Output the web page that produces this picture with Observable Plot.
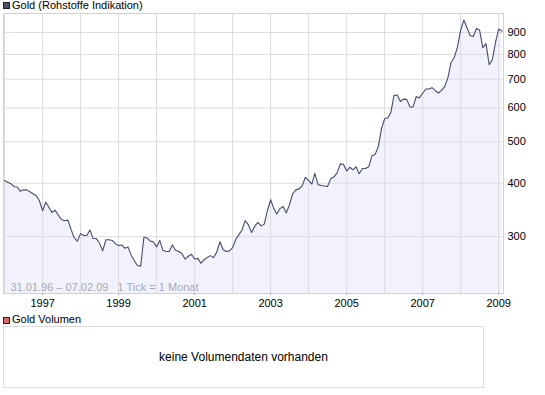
<!DOCTYPE html>
<html><head><meta charset="utf-8">
<script src="https://cdn.jsdelivr.net/npm/d3@7"></script>
<script src="https://cdn.jsdelivr.net/npm/@observablehq/plot@0.6"></script>
<style>
body{margin:0;background:#fff;font-family:"Liberation Sans",Arial,sans-serif;font-size:11px;color:#000;width:545px;height:395px;overflow:hidden}
.leg{height:12px;position:relative;white-space:nowrap}
.sq{position:absolute;left:3px;width:7px;height:7px;box-sizing:border-box;border:1px solid #222}
.lt{position:absolute;left:12px;line-height:12px}
#lower{position:relative;height:83px}
#box{position:absolute;left:3px;top:14px;width:481px;height:62px;box-sizing:border-box;border:1px solid #dcdcdc;display:flex;align-items:center;justify-content:center;font-size:12px}
#chart svg{display:block}
</style>
</head><body>
<div class="leg"><div class="sq" style="top:2px;background:#4a5070"></div><div class="lt" style="top:-1px">Gold (Rohstoffe Indikation)</div></div>
<div id="chart"></div>
<div id="lower">
  <div class="sq" style="top:5px;background:#d86a6a"></div><div class="lt" style="top:1px">Gold Volumen</div>
  <div id="box">keine Volumendaten vorhanden</div>
</div>
<script>
// monthly closes (Jan 1996 .. Feb 2009), USD per ounce
const firstMonth = "1996-01-01";
const lastMonth = "2009-02-01";
const goldValues = [
  406,402,399,393,392,383,386,386,382,378,374,364,
  345,361,352,342,346,337,329,327,328,312,298,293,
  305,302,302,311,297,297,290,278,295,295,294,289,
  286,287,282,284,272,264,257,256,299,298,293,292,
  284,294,279,277,277,287,279,277,274,266,270,273,
  266,267,260,265,268,271,268,276,292,280,277,278,
  283,296,303,311,327,320,307,317,324,318,321,345,
  366,349,339,349,353,341,356,378,386,388,395,413,
  406,398,422,397,395,394,393,410,414,423,444,443,
  427,436,430,437,421,433,433,437,464,467,487,536,
  566,569,585,641,643,621,629,628,603,603,638,633,
  649,664,664,669,659,650,659,673,706,766,787,831,
  910,963,925,886,881,920,912,830,848,757,778,853,917,907
];
const gridYears = [1996,1997,1998,1999,2000,2001,2002,2003,2004,2005,2006,2007,2008,2009];
const labelYears = [1997,1999,2001,2003,2005,2007,2009];
const yTicks = [300,400,500,600,700,800,900];
const rangeText = "31.01.96 \u2013 07.02.09\u00a0\u00a0\u00a01 Tick = 1 Monat";

const months = d3.utcMonth.range(new Date(firstMonth), d3.utcMonth.offset(new Date(lastMonth), 1));
const data = months.map((d, i) => ({date: d, value: goldValues[i]}));
const yr = y => new Date(Date.UTC(y, 0, 1));
const yMin = 221, yMax = 997;

const plot = Plot.plot({
  width: 545, height: 300,
  marginTop: 1, marginRight: 42, marginBottom: 19, marginLeft: 3,
  style: {fontFamily: "'Liberation Sans', Arial, sans-serif", fontSize: "11px", color: "#000", background: "#fff", overflow: "visible"},
  x: {type: "utc", domain: [new Date(Date.UTC(1995, 11, 22)), new Date(Date.UTC(2009, 1, 16))], axis: null},
  y: {type: "log", domain: [yMin, yMax], axis: null},
  marks: [
    Plot.areaY(data, {x: "date", y1: yMin, y2: "value", fill: "#f2f2fc"}),
    Plot.gridX(gridYears.map(yr), {stroke: "#dcdce0", strokeOpacity: 1}),
    Plot.gridY(yTicks, {stroke: "#dcdce0", strokeOpacity: 1}),
    Plot.frame({stroke: "#d2d2d2"}),
    Plot.lineY(data, {x: "date", y: "value", stroke: "#474d6d", strokeWidth: 1.1}),
    Plot.axisX(labelYears.map(yr), {tickSize: 2, tickPadding: 4, stroke: "#b0b0b0", label: null, tickFormat: d3.utcFormat("%Y")}),
    Plot.axisY(yTicks, {anchor: "right", tickSize: 0, tickPadding: 4, label: null, tickFormat: d => String(d)}),
    Plot.text([rangeText], {frameAnchor: "bottom-left", dx: 7, dy: -3, textAnchor: "start", lineAnchor: "bottom", fill: "#a8a8b2"})
  ]
});
document.getElementById("chart").append(plot);
</script>
</body></html>
